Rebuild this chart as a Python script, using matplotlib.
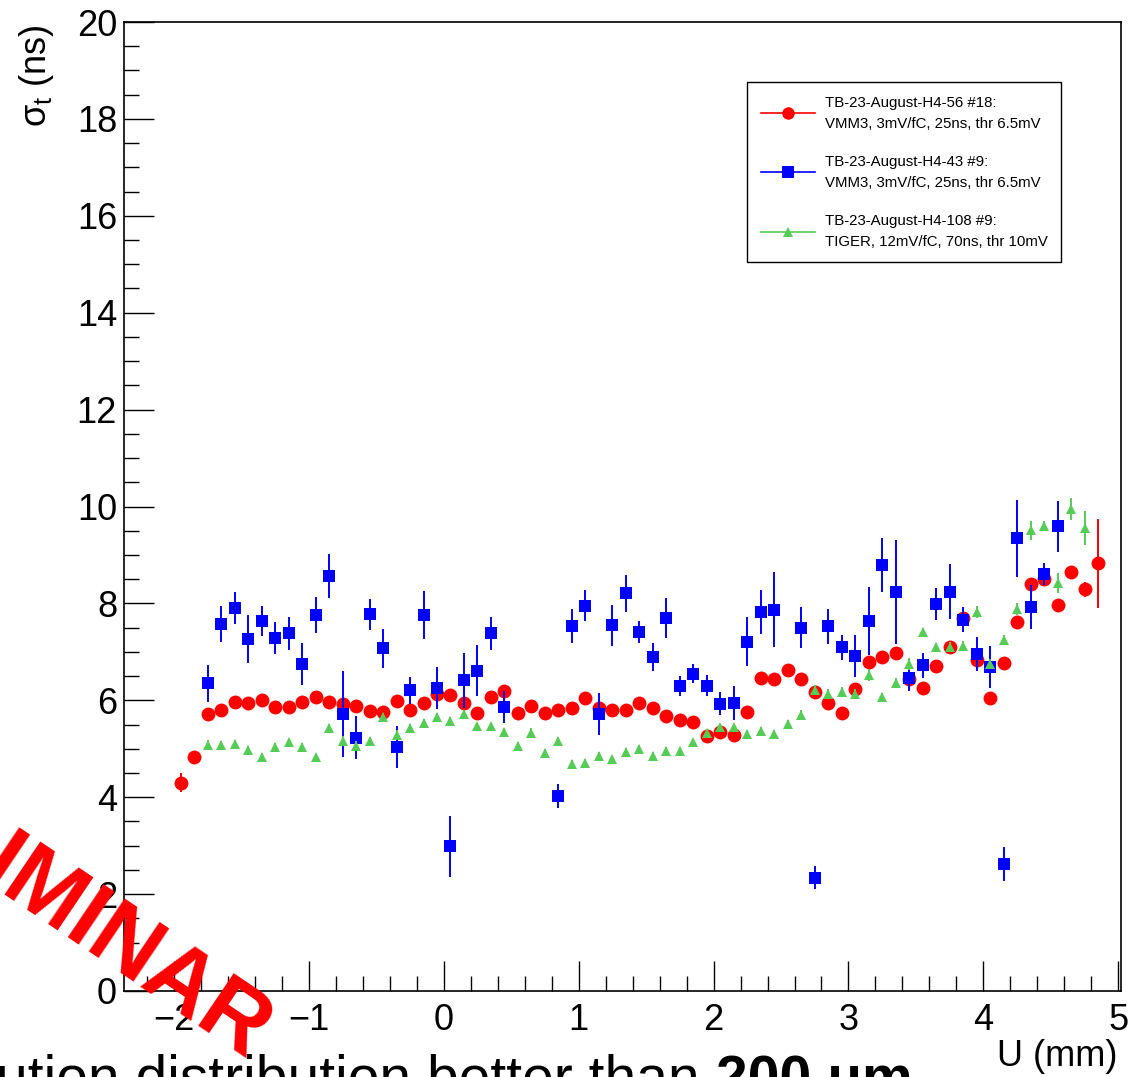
import matplotlib
matplotlib.use("Agg")
import matplotlib.pyplot as plt
from matplotlib.lines import Line2D
from matplotlib.ticker import MultipleLocator

plt.rcParams['font.family'] = ['Liberation Sans', 'DejaVu Sans']
plt.rcParams['mathtext.fontset'] = 'custom'
plt.rcParams['mathtext.rm'] = 'Liberation Sans'
plt.rcParams['mathtext.it'] = 'Liberation Sans'

# --- data ---
red_x = [-1.95, -1.85, -1.75, -1.65, -1.55, -1.45, -1.35, -1.25, -1.15, -1.05,
         -0.95, -0.85, -0.75, -0.65, -0.55, -0.45, -0.35, -0.25, -0.15, -0.05,
         0.05, 0.15, 0.25, 0.35, 0.45, 0.55, 0.65, 0.75, 0.85, 0.95,
         1.05, 1.15, 1.25, 1.35, 1.45, 1.55, 1.65, 1.75, 1.85, 1.95,
         2.05, 2.15, 2.25, 2.35, 2.45, 2.55, 2.65, 2.75, 2.85, 2.95,
         3.05, 3.15, 3.25, 3.35, 3.45, 3.55, 3.65, 3.75, 3.85, 3.95,
         4.05, 4.15, 4.25, 4.35, 4.45, 4.55, 4.65, 4.75, 4.85]
red_y = [4.30, 4.84, 5.71, 5.79, 5.96, 5.94, 6.01, 5.87, 5.87, 5.96,
         6.07, 5.96, 5.92, 5.88, 5.77, 5.75, 5.99, 5.79, 5.95, 6.12,
         6.11, 5.95, 5.74, 6.07, 6.20, 5.74, 5.88, 5.74, 5.79, 5.85,
         6.05, 5.85, 5.81, 5.81, 5.94, 5.85, 5.68, 5.59, 5.56, 5.27,
         5.34, 5.29, 5.76, 6.45, 6.43, 6.63, 6.43, 6.17, 5.94, 5.73,
         6.24, 6.80, 6.89, 6.97, 6.43, 6.25, 6.71, 7.11, 7.69, 6.83,
         6.05, 6.78, 7.62, 8.41, 8.50, 7.97, 8.65, 8.29, 8.83]
red_err = [0.20, 0.12, 0.08, 0.08, 0.08, 0.08, 0.08, 0.08, 0.08, 0.08,
           0.08, 0.08, 0.08, 0.08, 0.08, 0.08, 0.08, 0.08, 0.08, 0.08,
           0.08, 0.08, 0.08, 0.08, 0.08, 0.08, 0.08, 0.08, 0.08, 0.08,
           0.08, 0.08, 0.08, 0.08, 0.08, 0.08, 0.08, 0.08, 0.08, 0.08,
           0.08, 0.08, 0.08, 0.08, 0.08, 0.08, 0.08, 0.08, 0.08, 0.08,
           0.08, 0.08, 0.08, 0.08, 0.08, 0.08, 0.08, 0.08, 0.08, 0.08,
           0.10, 0.08, 0.08, 0.10, 0.10, 0.08, 0.12, 0.15, 0.92]

blue_x = [-1.75, -1.65, -1.55, -1.45, -1.35, -1.25, -1.15, -1.05, -0.95, -0.85,
          -0.75, -0.65, -0.55, -0.45, -0.35, -0.25, -0.15, -0.05, 0.05, 0.15,
          0.25, 0.35, 0.45, 0.85, 0.95, 1.05, 1.15, 1.25, 1.35, 1.45,
          1.55, 1.65, 1.75, 1.85, 1.95, 2.05, 2.15, 2.25, 2.35, 2.45,
          2.65, 2.75, 2.85, 2.95, 3.05, 3.15, 3.25, 3.35, 3.45, 3.55,
          3.65, 3.75, 3.85, 3.95, 4.05, 4.15, 4.25, 4.35, 4.45, 4.55]
blue_y = [6.35, 7.58, 7.90, 7.27, 7.64, 7.29, 7.38, 6.75, 7.76, 8.56,
          5.72, 5.23, 7.78, 7.07, 5.03, 6.21, 7.76, 6.26, 2.99, 6.41,
          6.61, 7.38, 5.86, 4.02, 7.53, 7.95, 5.72, 7.55, 8.21, 7.41,
          6.90, 7.70, 6.30, 6.55, 6.30, 5.93, 5.95, 7.21, 7.82, 7.87,
          7.50, 2.34, 7.53, 7.09, 6.92, 7.64, 8.79, 8.24, 6.47, 6.72,
          7.99, 8.24, 7.66, 6.95, 6.69, 2.62, 9.34, 7.93, 8.61, 9.59]
blue_err = [0.38, 0.37, 0.33, 0.49, 0.31, 0.33, 0.34, 0.43, 0.37, 0.45,
            0.89, 0.45, 0.32, 0.40, 0.43, 0.28, 0.49, 0.43, 0.63, 0.56,
            0.53, 0.34, 0.33, 0.25, 0.35, 0.32, 0.43, 0.42, 0.38, 0.23,
            0.29, 0.41, 0.21, 0.19, 0.22, 0.24, 0.35, 0.50, 0.46, 0.77,
            0.43, 0.23, 0.36, 0.26, 0.43, 0.70, 0.56, 1.07, 0.28, 0.25,
            0.33, 0.57, 0.26, 0.35, 0.43, 0.35, 0.80, 0.46, 0.22, 0.52]

green_x = [-1.75, -1.65, -1.55, -1.45, -1.35, -1.25, -1.15, -1.05, -0.95, -0.85,
           -0.75, -0.65, -0.55, -0.45, -0.35, -0.25, -0.15, -0.05, 0.05, 0.15,
           0.25, 0.35, 0.45, 0.55, 0.65, 0.75, 0.85, 0.95, 1.05, 1.15,
           1.25, 1.35, 1.45, 1.55, 1.65, 1.75, 1.85, 1.95, 2.05, 2.15,
           2.25, 2.35, 2.45, 2.55, 2.65, 2.75, 2.85, 2.95, 3.05, 3.15,
           3.25, 3.35, 3.45, 3.55, 3.65, 3.75, 3.85, 3.95, 4.05, 4.15,
           4.25, 4.35, 4.45, 4.55, 4.65, 4.75]
green_y = [5.08, 5.08, 5.10, 4.97, 4.82, 5.03, 5.13, 5.04, 4.82, 5.42,
           5.17, 5.06, 5.16, 5.66, 5.28, 5.43, 5.53, 5.66, 5.57, 5.71,
           5.46, 5.46, 5.35, 5.06, 5.32, 4.92, 5.16, 4.69, 4.71, 4.86,
           4.78, 4.94, 5.00, 4.86, 4.96, 4.95, 5.13, 5.32, 5.44, 5.44,
           5.30, 5.37, 5.31, 5.51, 5.69, 6.21, 6.14, 6.18, 6.14, 6.52,
           6.06, 6.35, 6.75, 7.42, 7.09, 7.11, 7.12, 7.82, 6.75, 7.24,
           7.88, 9.51, 9.60, 8.42, 9.95, 9.56]
green_err = [0.10, 0.08, 0.09, 0.08, 0.10, 0.09, 0.08, 0.08, 0.08, 0.10,
             0.10, 0.09, 0.08, 0.08, 0.10, 0.08, 0.08, 0.08, 0.08, 0.08,
             0.08, 0.08, 0.08, 0.08, 0.10, 0.08, 0.08, 0.08, 0.08, 0.08,
             0.08, 0.08, 0.08, 0.08, 0.08, 0.08, 0.08, 0.08, 0.08, 0.08,
             0.08, 0.08, 0.08, 0.08, 0.10, 0.10, 0.10, 0.10, 0.10, 0.12,
             0.10, 0.10, 0.12, 0.08, 0.10, 0.10, 0.10, 0.12, 0.10, 0.10,
             0.12, 0.20, 0.10, 0.20, 0.22, 0.35]

labels = ["TB-23-August-H4-56 #18:\nVMM3, 3mV/fC, 25ns, thr 6.5mV",
          "TB-23-August-H4-43 #9:\nVMM3, 3mV/fC, 25ns, thr 6.5mV",
          "TB-23-August-H4-108 #9:\nTIGER, 12mV/fC, 70ns, thr 10mV"]

RED = "#ff0000"
BLUE = "#0000ff"
GREEN = "#55cc55"

fig = plt.figure(figsize=(11.44, 10.77), dpi=100)
ax = fig.add_axes([124/1144, 1 - 991/1077, 997/1144, 969/1077])

ax.errorbar(red_x, red_y, yerr=red_err, fmt='o', color=RED, ms=10, mew=0,
            elinewidth=1.4, capsize=4, capthick=1.4, zorder=3)
ax.errorbar(blue_x, blue_y, yerr=blue_err, fmt='s', color=BLUE, ms=8.5, mew=0,
            elinewidth=1.4, capsize=4, capthick=1.4, zorder=4)
ax.errorbar(green_x, green_y, yerr=green_err, fmt='^', color=GREEN, ms=7.5, mew=0,
            elinewidth=1.4, capsize=4, capthick=1.4, zorder=5)

ax.set_xlim(-2.37, 5.02)
ax.set_ylim(0, 20)
ax.xaxis.set_major_locator(MultipleLocator(1))
ax.xaxis.set_minor_locator(MultipleLocator(0.2))
ax.yaxis.set_major_locator(MultipleLocator(2))
ax.yaxis.set_minor_locator(MultipleLocator(0.5))
ax.tick_params(which='both', direction='in', top=False, right=False,
               labelsize=26, width=1.0)
ax.tick_params(which='major', length=21.5, pad=5)
ax.tick_params(which='minor', length=10.5)
ax.xaxis.set_tick_params(pad=9)
for s in ax.spines.values():
    s.set_linewidth(1.2)

ax.set_ylabel(r"$\sigma_{t}$ (ns)", fontsize=26, loc='top')
ax.yaxis.set_label_coords(-0.068, 0.997)
ax.set_xlabel("U (mm)", fontsize=26, loc='right')
ax.xaxis.set_label_coords(0.996, -0.05)

handles = [Line2D([], [], color=RED, marker='o', ms=9, mew=0, lw=1.2),
           Line2D([], [], color=BLUE, marker='s', ms=8, mew=0, lw=1.2),
           Line2D([], [], color=GREEN, marker='^', ms=7, mew=0, lw=1.2)]
leg = ax.legend(handles, labels, loc='upper left',
                bbox_to_anchor=(747/1144, 1 - 82/1077),
                bbox_transform=fig.transFigure, fontsize=10.8,
                frameon=True, fancybox=False, framealpha=1,
                edgecolor='black', borderaxespad=0, borderpad=0.9,
                handlelength=3.6, handletextpad=0.7, labelspacing=1.6)
leg.get_frame().set_linewidth(1.0)
for t in leg.get_texts():
    t.set_linespacing(1.65)

# caption text cut at the bottom of the slide
renderer = fig.canvas.get_renderer()
base_y = 1 - 1096/1077
t1 = fig.text(-4/1144, base_y, "ution distribution better than ", fontsize=41,
              ha='left', va='baseline')
bb = t1.get_window_extent(renderer=renderer)
fig.text(bb.x1/fig.bbox.width, base_y, "200 μm", fontsize=41,
         fontweight='bold', ha='left', va='baseline')

# stamp
fig.text(248/1144, 1 - 1062/1077, "PRELIMINAR", fontsize=66, fontweight='bold',
         color=RED, rotation=-34, rotation_mode='anchor', ha='right',
         va='baseline', zorder=10)

fig.savefig("out.png", dpi=100)
